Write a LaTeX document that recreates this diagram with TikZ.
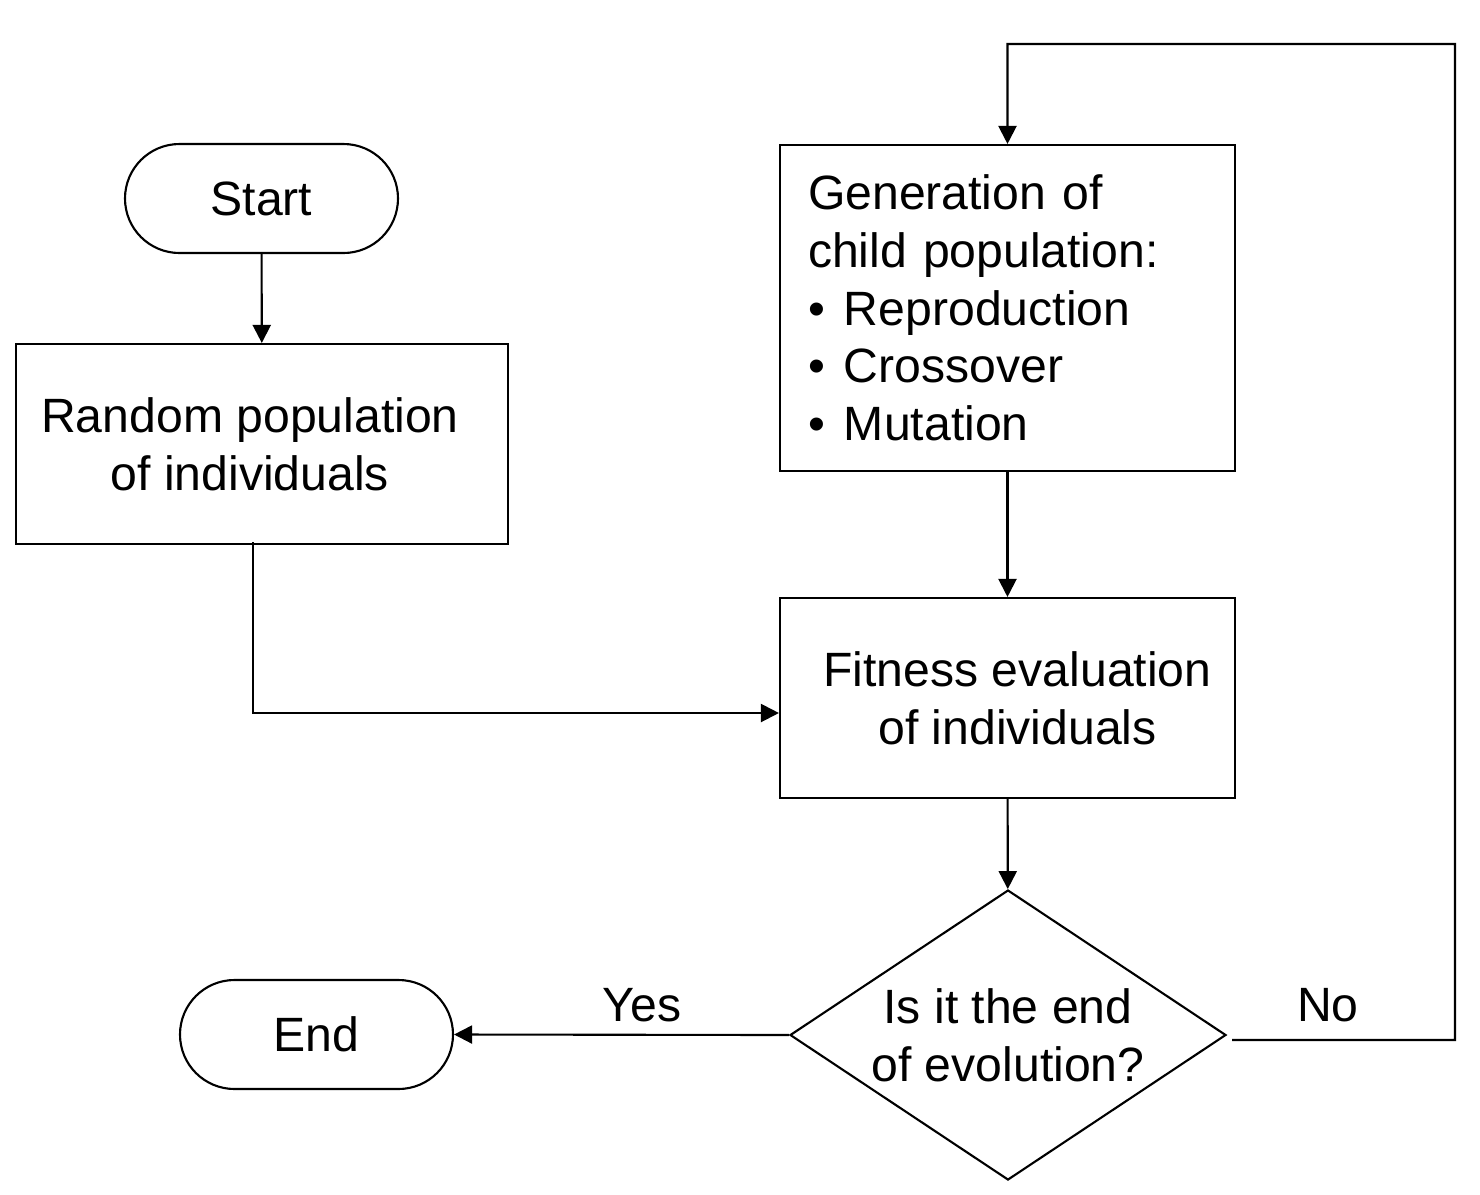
\documentclass[tikz,border=0pt]{standalone}
\usepackage{fontspec}
\setmainfont{Liberation Sans}
\usetikzlibrary{shapes.geometric,arrows.meta}
\tikzstyle{every node}=[font=\fontsize{13.7pt}{16.4pt}\selectfont]
\tikzstyle{term}=[rectangle,draw,line width=0.6pt,rounded corners=0.545cm,minimum width=2.73cm,minimum height=1.09cm,inner sep=0pt]
\tikzstyle{proc}=[rectangle,draw,line width=0.6pt,minimum width=4.55cm,minimum height=2cm,align=center,inner sep=0pt]
\tikzstyle{decide}=[diamond,draw,line width=0.6pt,minimum width=4.36cm,minimum height=2.9cm,aspect=1.5,align=center,inner sep=0pt]
\tikzstyle{arr}=[line width=0.6pt,-{Triangle[length=0.18cm,width=0.18cm]}]
\newcommand{\bitem}{\makebox[0.36cm][l]{\textbullet}}

\begin{document}
\begin{tikzpicture}
		\useasboundingbox (0,0) rectangle (14.8,-11.94);
		\node[term] (start) at (2.615,-1.985) {Start};
		\node[proc,minimum width=4.92cm] (rand) at (2.62,-4.44) {Random population\hspace*{0.24cm}\\of individuals\hspace*{0.24cm}};
		\node[proc,minimum height=3.26cm,text width=3.99cm,align=left] (gen) at (10.075,-3.08) {Generation of\\child population:\\\bitem Reproduction\\\bitem Crossover\\\bitem Mutation};
		\node[proc] (fit) at (10.075,-6.98) {\hspace*{0.2cm}Fitness evaluation\\\hspace*{0.2cm}of individuals};
		\node[decide] (dec) at (10.08,-10.35) {Is it the end\\of evolution?};
		\node[term] (end) at (3.165,-10.345) {End};

		\node[] (yes) at (6.42,-10.05) {Yes};
		\node[] (no) at (13.28,-10.05) {No};
		\coordinate (nob) at (14.55,-10.40);
		\coordinate (not) at (14.55,-0.44);

		\draw[arr] (start) -- (rand);
		\draw[arr] ([shift={(-0.09,0.03)}]rand.south) |- ([yshift=-0.15cm]fit.west);
		\draw[arr] (gen) -- (fit);
		\draw[arr] (fit) -- (dec);
		\draw[arr] (dec.west) -- (end.east);
		\draw[arr] ([shift={(0.05,-0.05)}]dec.east) -- (nob) -- (not) -| (gen.north);
	\end{tikzpicture}
\end{document}
